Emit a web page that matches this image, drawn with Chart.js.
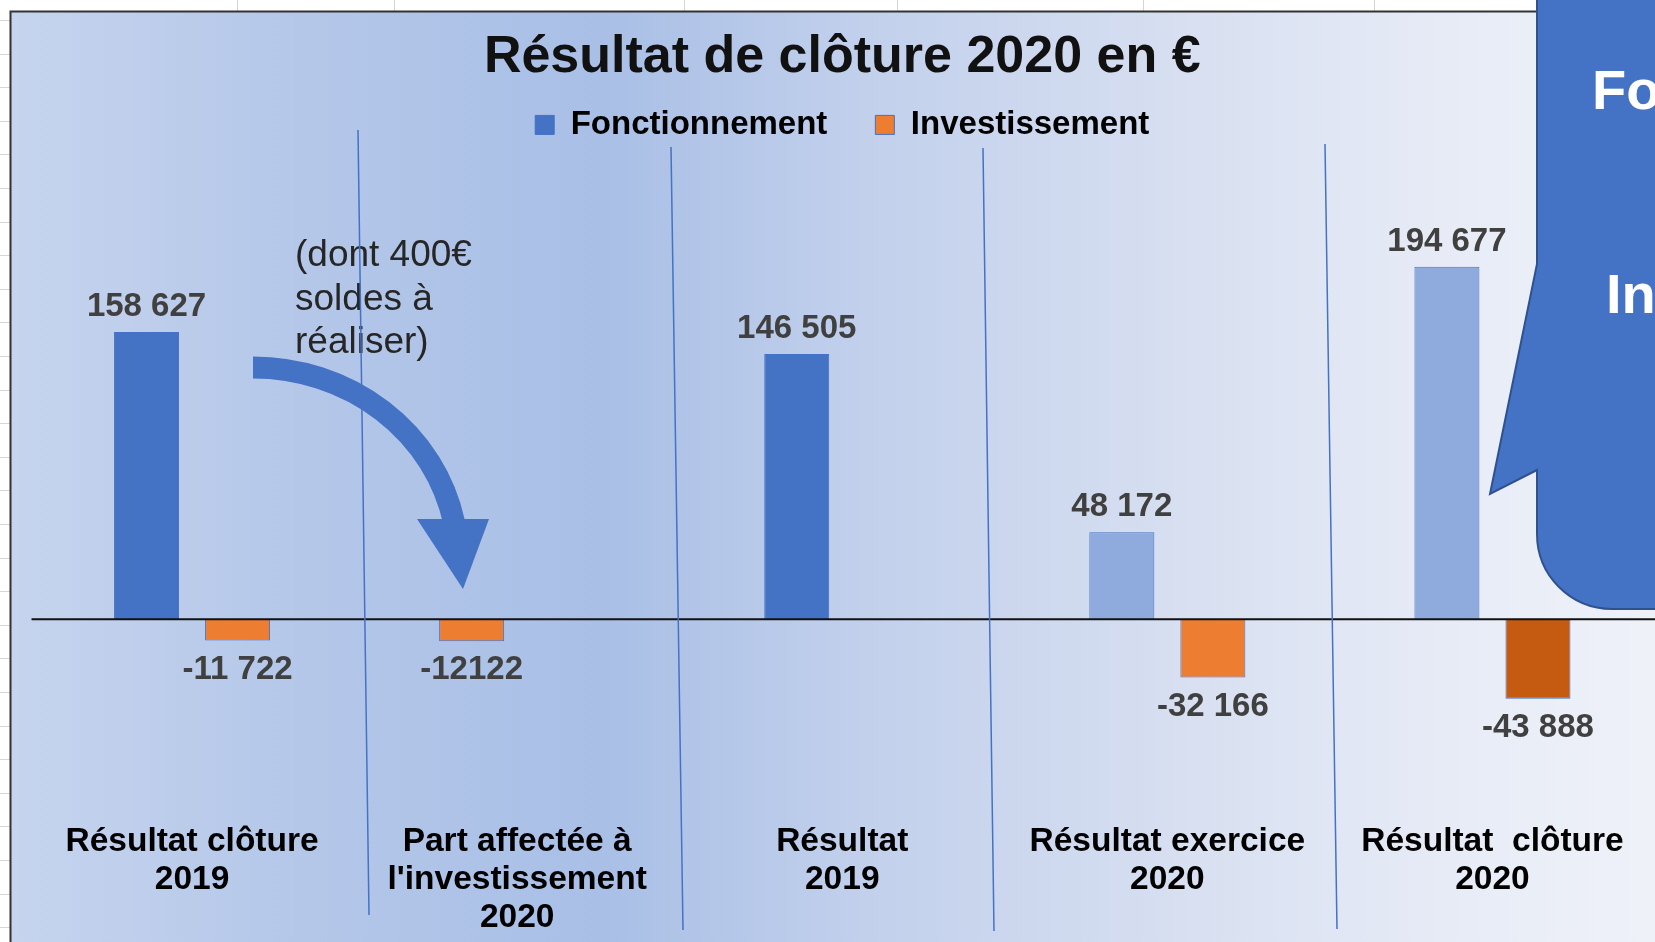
<!DOCTYPE html>
<html lang="fr">
<head>
<meta charset="utf-8">
<title>Résultat de clôture 2020 en €</title>
<script src="https://cdn.jsdelivr.net/npm/chart.js@4.4.1/dist/chart.umd.min.js"></script>
<style>
  html, body { margin: 0; padding: 0; background: #fff; }
  canvas { display: block; }
</style>
</head>
<body>
<canvas id="resultChart" width="1655" height="942"></canvas>
<script>
const categories = [
    ["Résultat clôture", "2019"],
    ["Part affectée à", "l'investissement", "2020"],
    ["Résultat", "2019"],
    ["Résultat exercice", "2020"],
    ["Résultat  clôture", "2020"]
];
const fonctionnement = [158627, -12122, 146505, 48172, 194677];
const investissement = [-11722, null, null, -32166, -43888];
const fonctionnementText = ["158 627", "-12122", "146 505", "48 172", "194 677"];
const investissementText = ["-11 722", "", "", "-32 166", "-43 888"];
const annotationLines = ["(dont 400€", "soldes à", "réaliser)"];

const canvas = document.getElementById("resultChart");
const ctx = canvas.getContext("2d");
Chart.defaults.font.family = "'Liberation Sans', Arial, sans-serif";

// spreadsheet behind the chart + gradient chart box
const sheetBackground = {
    id: "sheetBackground",
    beforeDraw(chart) {
        const c = chart.ctx;
        const w = chart.width, h = chart.height;
        c.save();
        c.fillStyle = "#ffffff";
        c.fillRect(0, 0, w, h);
        c.strokeStyle = "#d6d6d6";
        c.lineWidth = 1;
        [237, 394, 684, 897, 1143, 1374].forEach(x => {
            c.beginPath(); c.moveTo(x + 0.5, 0); c.lineTo(x + 0.5, 11); c.stroke();
        });
        for (let y = 20; y < h; y += 33.6) {
            c.beginPath(); c.moveTo(0, Math.round(y) + 0.5); c.lineTo(10, Math.round(y) + 0.5); c.stroke();
        }
        const grad = c.createLinearGradient(10, 0, w, 0);
        grad.addColorStop(0, "#c6d4ee");
        grad.addColorStop(0.18, "#b4c7e9");
        grad.addColorStop(0.36, "#a9bfe6");
        grad.addColorStop(0.52, "#c2d0ec");
        grad.addColorStop(0.72, "#d8e0f1");
        grad.addColorStop(0.9, "#e9edf7");
        grad.addColorStop(1, "#eef1f8");
        c.fillStyle = grad;
        c.fillRect(10, 11, w - 10, h - 11);
        c.strokeStyle = "#333333";
        c.lineWidth = 2;
        c.beginPath();
        c.moveTo(10.5, h); c.lineTo(10.5, 11.5); c.lineTo(w, 11.5);
        c.stroke();
        c.restore();
    }
};

// zero line and value labels
const valueLabels = {
    id: "valueLabels",
    afterDatasetsDraw(chart) {
        const c = chart.ctx;
        const y0 = chart.scales.y.getPixelForValue(0);
        c.save();
        c.strokeStyle = "#111111";
        c.lineWidth = 2;
        c.beginPath();
        c.moveTo(chart.chartArea.left + 2, y0);
        c.lineTo(chart.width, y0);
        c.stroke();
        const texts = [fonctionnementText, investissementText];
        c.font = "bold 33px 'Liberation Sans', Arial, sans-serif";
        c.fillStyle = "#404040";
        c.textAlign = "center";
        c.textBaseline = "middle";
        chart.data.datasets.forEach((ds, i) => {
            const meta = chart.getDatasetMeta(i);
            meta.data.forEach((bar, j) => {
                const v = ds.data[j];
                if (v === null || !texts[i][j]) return;
                const y = v >= 0 ? bar.y - 25 : bar.y + 29;
                c.fillText(texts[i][j], bar.x, y);
            });
        });
        c.restore();
    }
};

// arrow, note, separators and callout drawn on top
const overlays = {
    id: "overlays",
    afterDraw(chart) {
        const c = chart.ctx;
        c.save();
        // curved arrow
        c.strokeStyle = "#4472C4";
        c.fillStyle = "#4472C4";
        c.lineWidth = 22;
        c.beginPath();
        c.ellipse(253, 560, 205, 192.5, 0, -Math.PI / 2, -0.2, false);
        c.stroke();
        c.beginPath();
        c.moveTo(417, 519); c.lineTo(489, 519); c.lineTo(463, 589);
        c.closePath();
        c.fill();
        // note
        c.font = "37px 'Liberation Sans', Arial, sans-serif";
        c.fillStyle = "#262626";
        c.textBaseline = "middle";
        c.textAlign = "left";
        annotationLines.forEach((t, i) => c.fillText(t, 295, 256 + i * 43.5));
        // separators
        c.strokeStyle = "#4472C4";
        c.lineWidth = 1.5;
        [[358, 130, 369, 915], [671, 147, 683, 930], [983, 148, 994, 931], [1325, 144, 1337, 929]].forEach(s => {
            c.beginPath(); c.moveTo(s[0], s[1]); c.lineTo(s[2], s[3]); c.stroke();
        });
        // callout
        c.fillStyle = "#4472C4";
        c.strokeStyle = "#2F528F";
        c.lineWidth = 2;
        c.beginPath();
        c.moveTo(1537, -5);
        c.lineTo(1537, 264);
        c.lineTo(1490, 494);
        c.lineTo(1537, 470);
        c.arcTo(1537, 609, 1612, 609, 75);
        c.lineTo(1700, 609);
        c.lineTo(1700, -5);
        c.closePath();
        c.fill();
        c.stroke();
        c.fillStyle = "#ffffff";
        c.font = "bold 56px 'Liberation Sans', Arial, sans-serif";
        c.textBaseline = "alphabetic";
        c.fillText("Fonctionnement", 1592, 109);
        c.fillText("Investissement", 1606, 313);
        c.restore();
    }
};

const chart = new Chart(ctx, {
    type: "bar",
    data: {
        labels: categories,
        datasets: [
            {
                label: "Fonctionnement",
                data: fonctionnement,
                backgroundColor: ["#4472C4", "#ED7D31", "#4472C4", "#8FAADC", "#8FAADC"],
                borderColor: "#4472C4",
                borderWidth: 1
            },
            {
                label: "Investissement",
                data: investissement,
                backgroundColor: ["#ED7D31", "#ED7D31", "#ED7D31", "#ED7D31", "#C55A11"],
                borderColor: "#4472C4",
                borderWidth: 1
            }
        ]
    },
    options: {
        responsive: false,
        animation: false,
        categoryPercentage: 0.56,
        barPercentage: 0.714,
        layout: {
            padding: {left: 29.5, right: 0, top: 0, bottom: -5}
        },
        plugins: {
            title: {
                display: true,
                text: "Résultat de clôture 2020 en €",
                color: "#111111",
                font: {size: 52, weight: "bold", lineHeight: 1.2},
                padding: {top: 26, bottom: -28}
            },
            legend: {
                display: true,
                position: "top",
                labels: {
                    color: "#1a1a1a",
                    font: {size: 33, weight: "bold"},
                    boxWidth: 19,
                    boxHeight: 19,
                    padding: 48,
                    generateLabels: () => [
                        {text: "Fonctionnement", fillStyle: "#4472C4", strokeStyle: "#4472C4", lineWidth: 1, datasetIndex: 0},
                        {text: "Investissement", fillStyle: "#ED7D31", strokeStyle: "#4472C4", lineWidth: 1, datasetIndex: 1}
                    ]
                }
            },
            tooltip: {enabled: false}
        },
        scales: {
            x: {
                grid: {display: false},
                border: {display: false},
                ticks: {
                    color: "#000000",
                    font: {size: 33.5, weight: "bold", lineHeight: 1.134},
                    padding: 10,
                    maxRotation: 0,
                    autoSkip: false
                }
            },
            y: {
                display: false,
                min: -102540,
                max: 258430
            }
        }
    },
    plugins: [sheetBackground, valueLabels, overlays]
});
</script>
</body>
</html>
